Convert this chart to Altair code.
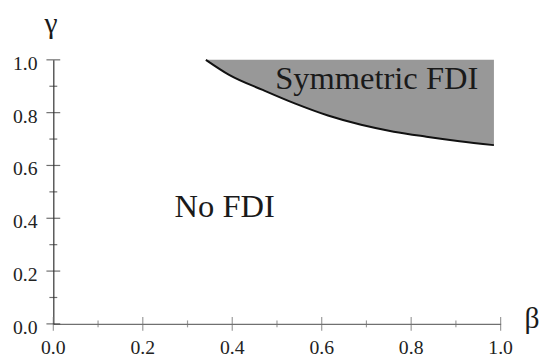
import altair as alt
import pandas as pd

# Boundary between "No FDI" and "Symmetric FDI" regions
beta_curve = [0.341, 0.394, 0.468, 0.541, 0.614, 0.688, 0.761, 0.834, 0.908, 0.985]
gamma_curve = [1.0, 0.942, 0.886, 0.834, 0.789, 0.754, 0.728, 0.709, 0.692, 0.677]

major_ticks = [0.0, 0.2, 0.4, 0.6, 0.8, 1.0]
minor_ticks = [0.1, 0.3, 0.5, 0.7, 0.9]
tick_labels = ["0.0", "0.2", "0.4", "0.6", "0.8", "1.0"]

region_labels = ["Symmetric FDI", "No FDI"]

FONT = "Liberation Serif"
XCOL = "#707070"
YCOL = "#303030"

curve = pd.DataFrame({"beta": beta_curve, "gamma": gamma_curve})
majors = pd.DataFrame({"v": major_ticks, "lab": tick_labels})
minors = pd.DataFrame({"v": minor_ticks})

xs = alt.Scale(domain=[0, 1], nice=False, zero=False)
ys = alt.Scale(domain=[0, 1], nice=False, zero=False)

x_axis = alt.Axis(values=major_ticks, grid=False, ticks=False, labels=False,
                  domainColor=XCOL, domainWidth=1.2, title=None)
y_axis = alt.Axis(values=major_ticks, grid=False, ticks=False, labels=False,
                  domainColor=YCOL, domainWidth=1.2, title=None)

def X(field):
    return alt.X(field, scale=xs, axis=x_axis)

def Y(field):
    return alt.Y(field, scale=ys, axis=y_axis)

def XD(v):
    return alt.XDatum(v, type="quantitative", scale=xs, axis=x_axis)

def YD(v):
    return alt.YDatum(v, type="quantitative", scale=ys, axis=y_axis)

area = alt.Chart(curve).mark_area(color="#989898", interpolate="monotone").encode(
    x=X("beta:Q"), y=Y("gamma:Q"), y2=alt.datum(1.0),
)

line = alt.Chart(curve).mark_line(color="#111", strokeWidth=2, interpolate="monotone").encode(
    x=X("beta:Q"), y=Y("gamma:Q"),
)

xmaj = alt.Chart(majors).mark_tick(orient="vertical", size=14, thickness=1.2, color=XCOL).encode(
    x=X("v:Q"), y=YD(0.0))
xmin = alt.Chart(minors).mark_tick(orient="vertical", size=7, thickness=1.2, color=XCOL).encode(
    x=X("v:Q"), y=YD(0.0))
ymaj = alt.Chart(majors).mark_tick(orient="horizontal", size=14, thickness=1.2, color=YCOL).encode(
    y=Y("v:Q"), x=XD(0.0))
ymin = alt.Chart(minors).mark_tick(orient="horizontal", size=8, thickness=1.2, color=YCOL).encode(
    y=Y("v:Q"), x=XD(0.0))

xlab = alt.Chart(majors).mark_text(font=FONT, fontSize=20, color="#222", align="center",
                                   baseline="alphabetic", dy=31).encode(
    x=X("v:Q"), y=YD(0.0), text="lab:N")
ylab = alt.Chart(majors).mark_text(font=FONT, fontSize=20, color="#222", align="right",
                                   baseline="alphabetic", dx=-16, dy=10).encode(
    y=Y("v:Q"), x=XD(0.0), text="lab:N")

def label(txt, bx, gy, size):
    return alt.Chart().mark_text(font=FONT, fontSize=size, color="#1a1a1a",
                                 align="center", baseline="alphabetic").encode(
        x=XD(bx), y=YD(gy), text=alt.value(txt))

sym = label(region_labels[0], 0.723, 0.89, 33)
nofdi = label(region_labels[1], 0.383, 0.406, 33)
gam = label("γ", -0.005, 1.10, 30)
bet = label("β", 1.07, -0.015, 30)

chart = alt.layer(area, line, xmaj, xmin, ymaj, ymin, xlab, ylab,
                  sym, nofdi, gam, bet).properties(
    width=454, height=268,
    autosize=alt.AutoSizeParams(type="none"),
    padding={"left": 46, "top": 50, "right": 43, "bottom": 32},
    background="white",
).configure_view(stroke=None)

chart.save("out.html", embed_options={"renderer": "svg", "actions": False})
